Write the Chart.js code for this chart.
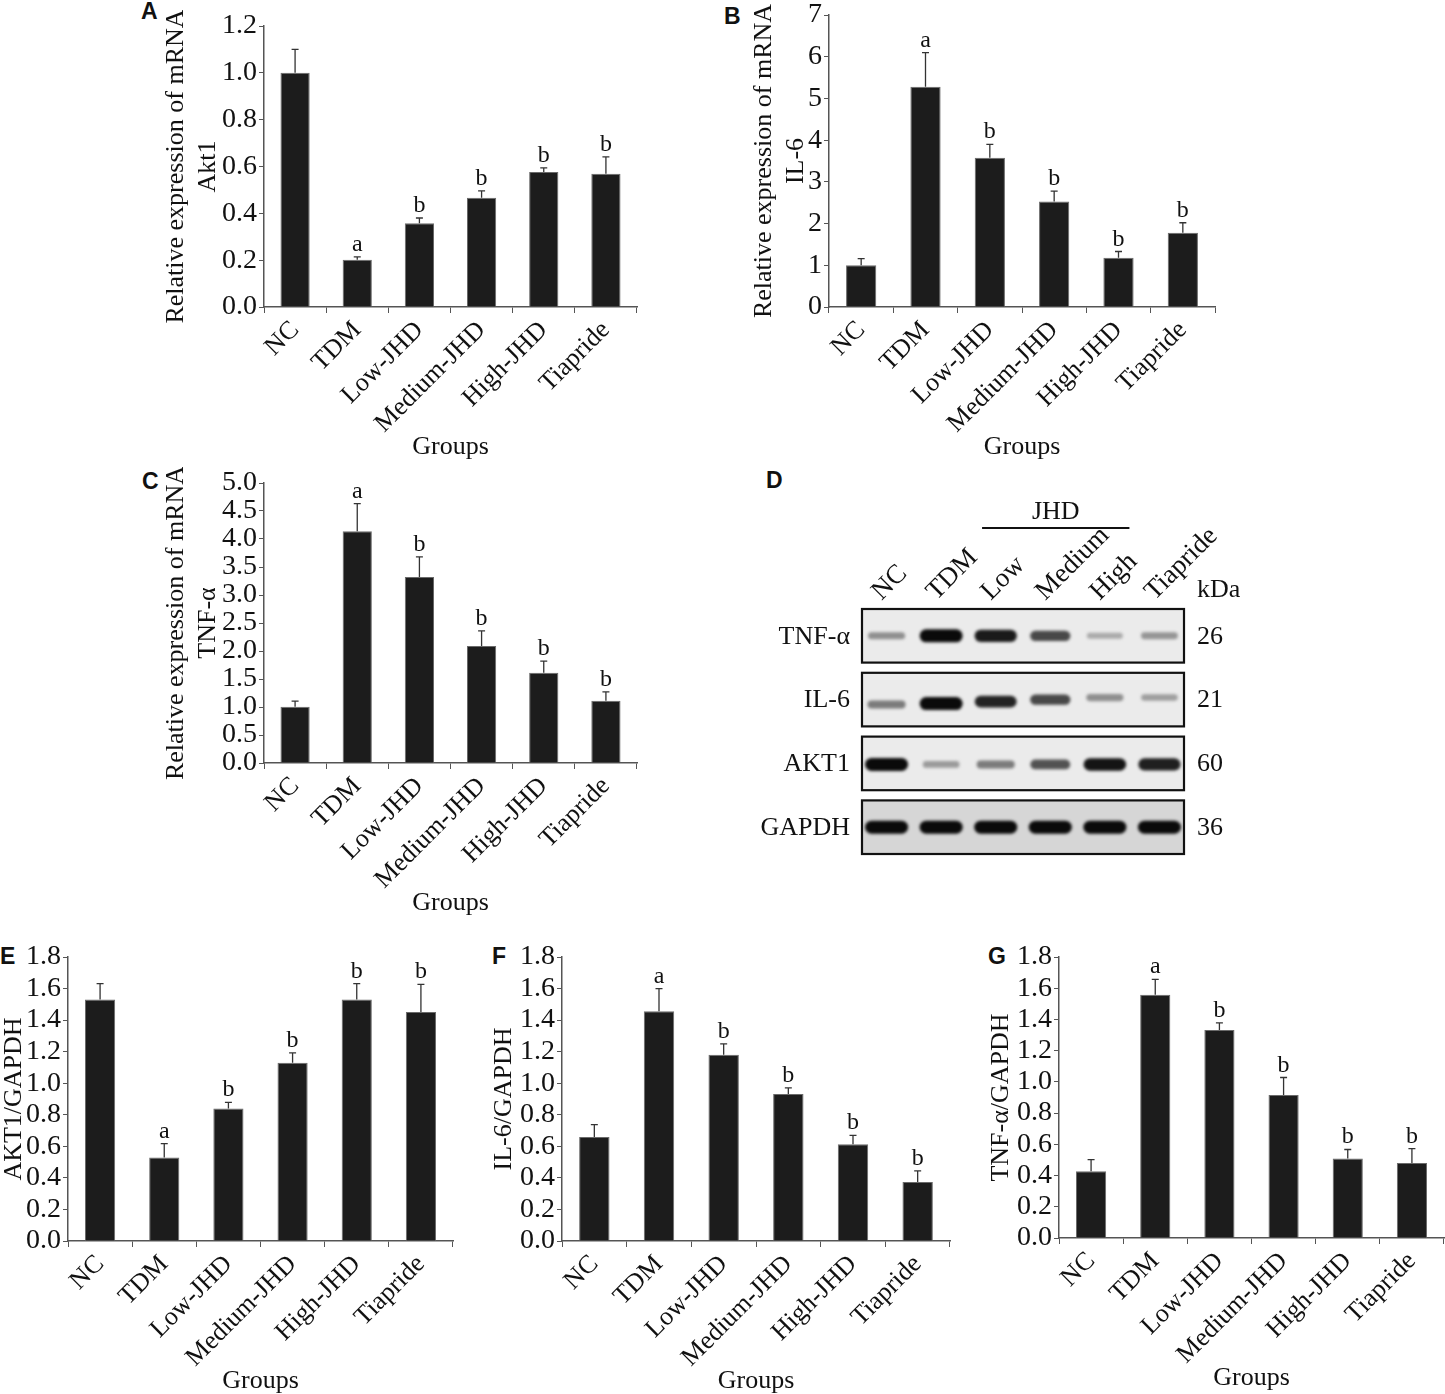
<!DOCTYPE html>
<html>
<head>
<meta charset="utf-8">
<script src="https://cdn.jsdelivr.net/npm/chart.js@4.4.1/dist/chart.umd.min.js"></script>
<style>
html, body { margin: 0; padding: 0; background: #fff; overflow: hidden; }
#page { position: relative; width: 1445px; height: 1394px; }
canvas { position: absolute; }
.tag { position: absolute; font: bold 23px "Liberation Sans", Arial, sans-serif; line-height: 1; color: #111; }
</style>
</head>
<body>
<div id="page">
  <div class="tag" style="left:141px;top:0px">A</div>
  <div class="tag" style="left:724px;top:5px">B</div>
  <div class="tag" style="left:142px;top:470px">C</div>
  <div class="tag" style="left:766px;top:469px">D</div>
  <div class="tag" style="left:0px;top:945px">E</div>
  <div class="tag" style="left:492px;top:945px">F</div>
  <div class="tag" style="left:988px;top:945px">G</div>
  <canvas id="chartA"></canvas>
  <canvas id="chartB"></canvas>
  <canvas id="chartC"></canvas>
  <canvas id="chartD"></canvas>
  <canvas id="chartE"></canvas>
  <canvas id="chartF"></canvas>
  <canvas id="chartG"></canvas>
</div>
<script>
/* Data */
const groups = ["NC", "TDM", "Low-JHD", "Medium-JHD", "High-JHD", "Tiapride"];
const sigMarks = ["", "a", "b", "b", "b", "b"];

const akt1Mrna = [1.00, 0.202, 0.358, 0.467, 0.577, 0.569];
const akt1MrnaSd = [0.100, 0.012, 0.022, 0.029, 0.017, 0.072];

const il6Mrna = [1.00, 5.28, 3.58, 2.53, 1.18, 1.78];
const il6MrnaSd = [0.16, 0.82, 0.32, 0.25, 0.15, 0.24];

const tnfMrna = [1.006, 4.14, 3.32, 2.09, 1.61, 1.11];
const tnfMrnaSd = [0.10, 0.49, 0.36, 0.27, 0.21, 0.16];

const akt1Protein = [1.530, 0.530, 0.839, 1.130, 1.530, 1.452];
const akt1ProteinSd = [0.101, 0.087, 0.040, 0.062, 0.101, 0.175];

const il6Protein = [0.659, 1.456, 1.181, 0.932, 0.613, 0.374];
const il6ProteinSd = [0.078, 0.144, 0.068, 0.038, 0.057, 0.070];

const tnfProtein = [0.427, 1.558, 1.333, 0.916, 0.509, 0.481];
const tnfProteinSd = [0.075, 0.099, 0.045, 0.112, 0.058, 0.092];

const blotLanes = ["NC", "TDM", "Low", "Medium", "High", "Tiapride"];
const blotRows = ["TNF-α", "IL-6", "AKT1", "GAPDH"];
const blotKda = ["26", "21", "60", "36"];
const blotBands = [
    [0.35, 1.00, 0.92, 0.70, 0.22, 0.32],
    [0.45, 1.00, 0.88, 0.70, 0.35, 0.28],
    [1.00, 0.30, 0.45, 0.65, 0.95, 0.90],
    [1.00, 1.00, 1.00, 1.00, 1.00, 1.00]
];

/* Utils */
const SERIF = '"Liberation Serif", "Times New Roman", serif';
const font26 = { family: SERIF, size: 26 };
const tickFont = { family: SERIF, size: 28, lineHeight: 1 };
const INK = "#111";
const AXIS = "#555";

function errPlugin(sd, sig) {
    return {
        id: "errbars",
        afterDatasetsDraw(chart) {
            const ctx = chart.ctx;
            const yScale = chart.scales.y;
            const vals = chart.data.datasets[0].data;
            ctx.save();
            ctx.strokeStyle = "#333";
            ctx.lineWidth = 1.3;
            ctx.fillStyle = INK;
            ctx.font = "24px " + SERIF;
            ctx.textAlign = "center";
            ctx.textBaseline = "alphabetic";
            chart.getDatasetMeta(0).data.forEach((bar, i) => {
                const yBar = yScale.getPixelForValue(vals[i]);
                const yTop = yScale.getPixelForValue(vals[i] + sd[i]);
                ctx.beginPath();
                ctx.moveTo(bar.x, yBar);
                ctx.lineTo(bar.x, yTop);
                ctx.moveTo(bar.x - 3.5, yTop);
                ctx.lineTo(bar.x + 3.5, yTop);
                ctx.stroke();
                if (sig[i]) ctx.fillText(sig[i], bar.x, yTop - 6);
            });
            ctx.restore();
        }
    };
}

/* Bar panels: box = plot area in page pixels, yW = width kept for the y axis */
function barPanel(id, box, vals, sd, sig, yMin, yMax, step, dec, title) {
    const padTop = 16, padRight = 3, xH = 158;
    const cv = document.getElementById(id);
    const w = box.yW + (box.r - box.l) + padRight;
    const h = padTop + (box.b - box.t) + xH;
    cv.width = w; cv.height = h;
    cv.style.left = (box.l - box.yW) + "px";
    cv.style.top = (box.t - padTop) + "px";
    cv.style.width = w + "px";
    cv.style.height = h + "px";

    return new Chart(cv, {
        type: "bar",
        data: {
            labels: groups,
            datasets: [{
                data: vals,
                backgroundColor: "#1c1c1c",
                borderColor: "#6a6a6a",
                borderWidth: 1,
                barPercentage: 0.47,
                categoryPercentage: 1
            }]
        },
        options: {
            responsive: false,
            animation: false,
            layout: { padding: { top: padTop, right: padRight, left: 0, bottom: 0 } },
            plugins: { legend: { display: false }, tooltip: { enabled: false } },
            scales: {
                x: {
                    grid: { display: true, drawOnChartArea: false, drawTicks: true, tickLength: 6, color: AXIS, offset: true },
                    border: { display: true, color: AXIS, width: 1.5 },
                    ticks: { autoSkip: false, minRotation: 45, maxRotation: 45, padding: 2, color: INK, font: font26 },
                    title: { display: true, text: "Groups", color: INK, font: font26, padding: { top: 0, bottom: 2 } },
                    afterFit: s => { s.height = xH; }
                },
                y: {
                    min: yMin,
                    max: yMax,
                    ticks: { autoSkip: false, stepSize: step, padding: 2, color: INK, font: tickFont, callback: v => Number(v).toFixed(dec) },
                    grid: { display: true, drawOnChartArea: false, drawTicks: true, tickLength: 5, color: AXIS },
                    border: { display: true, color: AXIS, width: 1.5 },
                    title: { display: true, text: title, color: INK, font: font26, padding: { top: 4, bottom: 0 } },
                    afterFit: s => { s.width = box.yW; }
                }
            }
        },
        plugins: [errPlugin(sd, sig)]
    });
}

barPanel("chartA", { l: 264, t: 26, r: 637, b: 307, yW: 107 }, akt1Mrna, akt1MrnaSd, sigMarks,
    0, 1.2, 0.2, 1, ["Relative expression of mRNA", "Akt1"]);
barPanel("chartB", { l: 829, t: 15, r: 1215, b: 307, yW: 84 }, il6Mrna, il6MrnaSd, sigMarks,
    0, 7, 1, 0, ["Relative expression of mRNA", "IL-6"]);
barPanel("chartC", { l: 264, t: 483, r: 637, b: 763, yW: 107 }, tnfMrna, tnfMrnaSd, sigMarks,
    0, 5, 0.5, 1, ["Relative expression of mRNA", "TNF-α"]);
barPanel("chartE", { l: 68, t: 957, r: 453, b: 1241, yW: 73 }, akt1Protein, akt1ProteinSd, sigMarks,
    0, 1.8, 0.2, 1, "AKT1/GAPDH");
barPanel("chartF", { l: 562, t: 957, r: 950, b: 1241, yW: 77 }, il6Protein, il6ProteinSd, sigMarks,
    0, 1.8, 0.2, 1, "IL-6/GAPDH");
barPanel("chartG", { l: 1059, t: 957, r: 1444, b: 1238, yW: 77 }, tnfProtein, tnfProteinSd, sigMarks,
    0, 1.8, 0.2, 1, "TNF-α/GAPDH");

/* Western blot panel (D) */
const bandShift = [
    [0, 0, 0, 0, 0, 0],
    [5, 4, 2, 0, -2, -2],
    [1, 1, 1, 1, 1, 1],
    [0, 0, 0, 0, 0, 0]
];

const blotPlugin = {
    id: "blot",
    beforeDatasetsDraw(chart) {
        const { ctx, scales: { x, y } } = chart;
        const L = x.getPixelForValue(-0.45), R = x.getPixelForValue(5.45);
        ctx.save();
        blotRows.forEach((name, r) => {
            const top = y.getPixelForValue(r - 0.42), bot = y.getPixelForValue(r + 0.42);
            ctx.fillStyle = r === 3 ? "#d6d6d6" : "#ebebeb";
            ctx.fillRect(L, top, R - L, bot - top);

            ctx.save();
            ctx.beginPath();
            ctx.rect(L, top, R - L, bot - top);
            ctx.clip();
            ctx.filter = "blur(1.6px)";
            chart.getDatasetMeta(r).data.forEach((pt, i) => {
                const k = blotBands[r][i];
                const g = Math.round(215 - 205 * k);
                const bw = 34 + 9 * k, bh = 4 + 9 * k;
                ctx.fillStyle = `rgb(${g},${g},${g})`;
                ctx.beginPath();
                ctx.roundRect(pt.x - bw / 2, pt.y + bandShift[r][i] - bh / 2, bw, bh, bh / 2);
                ctx.fill();
            });
            ctx.restore();

            ctx.lineWidth = 2.2;
            ctx.strokeStyle = INK;
            ctx.strokeRect(L, top, R - L, bot - top);

            const cy = y.getPixelForValue(r);
            ctx.fillStyle = INK;
            ctx.font = "26px " + SERIF;
            ctx.textBaseline = "middle";
            ctx.textAlign = "right";
            ctx.fillText(name, L - 12, cy + 1);
            ctx.textAlign = "left";
            ctx.fillText(blotKda[r], R + 13, cy + 1);
        });

        // lane labels
        ctx.fillStyle = INK;
        ctx.font = "27px " + SERIF;
        ctx.textAlign = "left";
        ctx.textBaseline = "alphabetic";
        blotLanes.forEach((lane, i) => {
            ctx.save();
            ctx.translate(x.getPixelForValue(i) - 5, y.getPixelForValue(-0.42) - 8);
            ctx.rotate(-Math.PI / 4);
            ctx.fillText(lane, 0, 0);
            ctx.restore();
        });
        ctx.font = "26px " + SERIF;
        ctx.fillText("kDa", R + 13, y.getPixelForValue(-0.42) - 12);

        // JHD bracket
        const lineY = y.getPixelForValue(-0.42) - 81;
        ctx.strokeStyle = INK;
        ctx.lineWidth = 2;
        ctx.beginPath();
        ctx.moveTo(x.getPixelForValue(1.75), lineY);
        ctx.lineTo(x.getPixelForValue(4.45), lineY);
        ctx.stroke();
        ctx.textAlign = "center";
        ctx.fillText("JHD", x.getPixelForValue(3.1), lineY - 9);
        ctx.restore();
    }
};

(function () {
    const cv = document.getElementById("chartD");
    const W = 500, H = 420;
    cv.width = W; cv.height = H;
    cv.style.left = "760px"; cv.style.top = "460px";
    cv.style.width = W + "px"; cv.style.height = H + "px";
    new Chart(cv, {
        type: "scatter",
        data: {
            datasets: blotRows.map((name, r) => ({
                label: name,
                data: blotLanes.map((l, i) => ({ x: i, y: r })),
                pointRadius: 0
            }))
        },
        options: {
            responsive: false,
            animation: false,
            layout: { padding: { left: 102, top: 149, right: 76, bottom: 26 } },
            plugins: { legend: { display: false }, tooltip: { enabled: false } },
            scales: {
                x: { type: "linear", min: -0.45, max: 5.45, display: false },
                y: { type: "linear", min: -0.42, max: 3.42, reverse: true, display: false }
            }
        },
        plugins: [blotPlugin]
    });
})();
</script>
</body>
</html>
